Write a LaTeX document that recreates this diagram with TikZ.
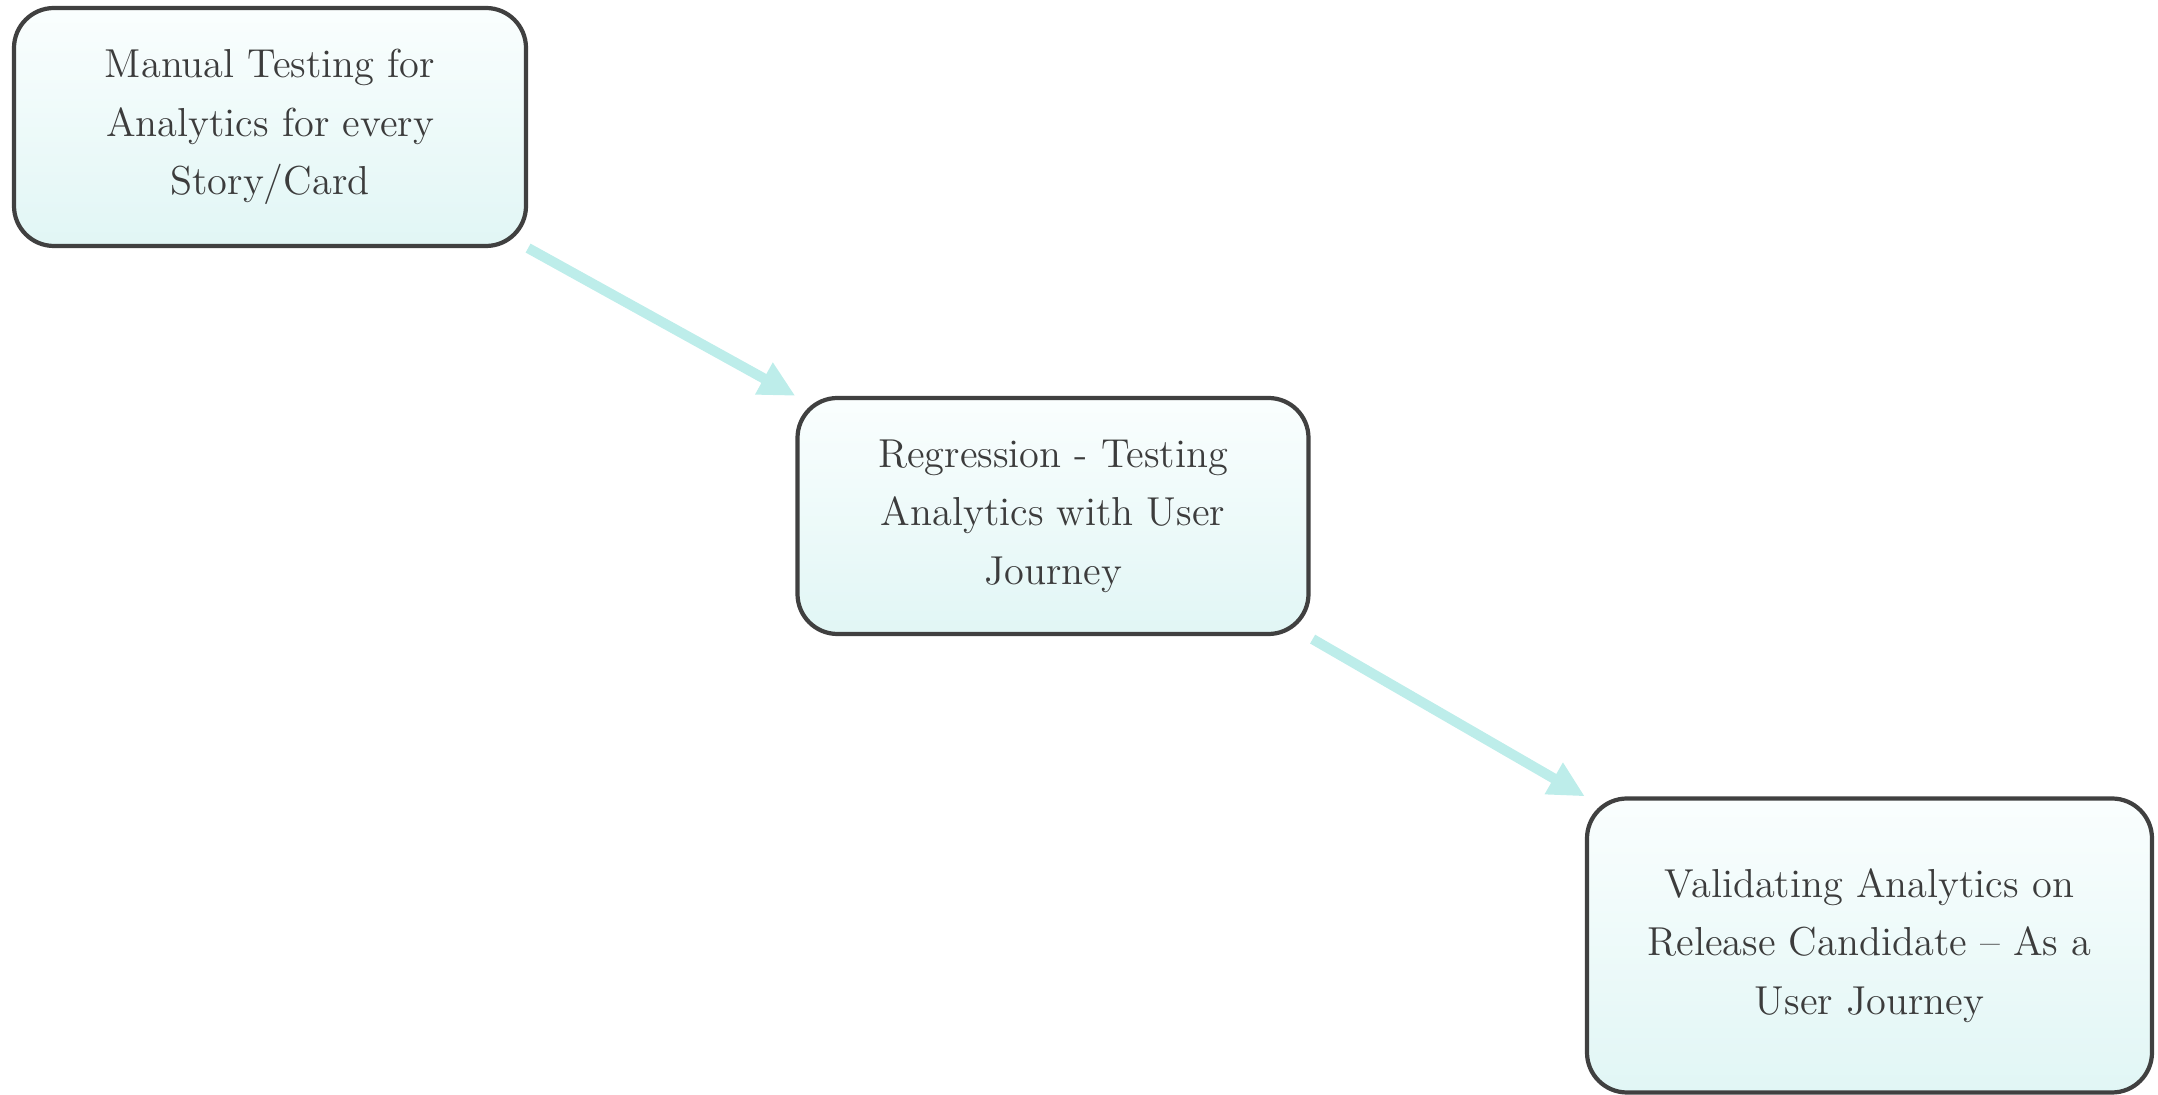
\documentclass[tikz,border=0pt]{standalone}
\usetikzlibrary{arrows.meta}

\definecolor{boxline}{HTML}{404040}
\definecolor{boxtop}{HTML}{FAFEFE}
\definecolor{boxbottom}{HTML}{E1F6F5}
\definecolor{flow}{HTML}{BDEDEA}
\definecolor{txt}{HTML}{3C3C3C}

\tikzset{
  stage/.style={draw=boxline, line width=1.2pt, rounded corners=0.4cm,
    top color=boxtop, bottom color=boxbottom, align=center, text=txt,
    font=\fontsize{11.5}{16.6}\selectfont, inner sep=0pt},
  flowarrow/.style={draw=flow, line width=2.9pt,
    -{Triangle[length=0.36cm, width=0.34cm]}}
}

\begin{document}
\begin{tikzpicture}
\useasboundingbox (0,0) rectangle (21.58,-10.95);

% Boxes
\node[stage, minimum width=5.12cm, minimum height=2.38cm] (manual) at (2.70,-1.27)
  {Manual Testing for\\Analytics for every\\Story/Card};
\node[stage, minimum width=5.11cm, minimum height=2.36cm] (regress) at (10.53,-5.16)
  {Regression - Testing\\Analytics with User\\Journey};
\node[stage, minimum width=5.65cm, minimum height=2.94cm] (release) at (18.695,-9.455)
  {Validating Analytics on\\Release Candidate -- As a\\User Journey};

% Arrows
\draw[flowarrow] (manual.south east) -- (regress.north west);
\draw[flowarrow] ([shift={(0.02,-0.03)}]regress.south east) -- (release.north west);

\end{tikzpicture}
\end{document}
